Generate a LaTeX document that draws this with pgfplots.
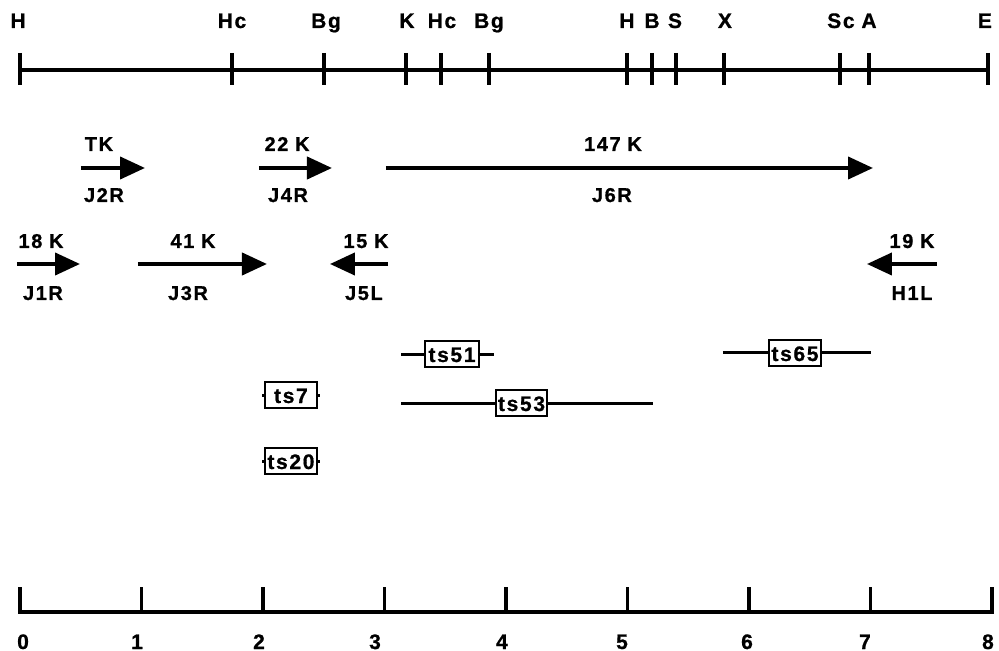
\documentclass[border=0pt]{standalone}
\usepackage{pgfplots}
\pgfplotsset{compat=1.18}
\usepackage{fontspec}
\setmainfont{Liberation Sans}
\newfontfamily\lab{Liberation Sans}[LetterSpace=8, FakeBold=0.8]
\usetikzlibrary{arrows.meta}
\tikzset{
  toplab/.style={font=\lab\bfseries\fontsize{10.5}{12}\selectfont, anchor=base, inner sep=0pt},
  arrlab/.style={font=\lab\bfseries\fontsize{10}{12}\selectfont, anchor=base, inner sep=0pt},
  tslab/.style={font=\lab\bfseries\fontsize{10.5}{12}\selectfont, anchor=base, inner sep=0pt},
  arr/.style={line width=2pt, -{Triangle[length=12.5pt,width=11pt]}},
  tsline/.style={line width=1.5pt},
  tsbox/.style={line width=1.2pt, fill=white, draw=black},
}
\begin{document}
\begin{tikzpicture}
\begin{axis}[
  scale only axis, width=499.5pt, height=325.5pt,
  xmin=-0.1646, xmax=8.058, ymin=0, ymax=651, y dir=reverse,
  hide axis, clip=false,
  every axis plot/.append style={mark=none, black, line cap=butt},
]
\path (rel axis cs:0,0) coordinate (SW) (rel axis cs:1,1) coordinate (NE);
% ---- restriction map ----
\addplot[line width=2pt] coordinates {(0,70) (7.967,70)};
\pgfplotsinvokeforeach{0,1.745,2.502,3.177,3.465,3.860,4.996,5.202,5.399,5.794,6.749,6.988,7.967}{
  \addplot[line width=1.8pt] coordinates {(#1,53) (#1,85)};
}
\node[toplab] at (axis cs:-0.016,28) {H};
\node[toplab] at (axis cs:1.745,28) {Hc};
\node[toplab] at (axis cs:2.519,28) {Bg};
\node[toplab] at (axis cs:3.185,28) {K};
\node[toplab] at (axis cs:3.473,28) {Hc};
\node[toplab] at (axis cs:3.860,28) {Bg};
\node[toplab] at (axis cs:4.996,28) {H};
\node[toplab] at (axis cs:5.202,28) {B};
\node[toplab] at (axis cs:5.391,28) {S};
\node[toplab] at (axis cs:5.802,28) {X};
\node[toplab] at (axis cs:6.757,28) {Sc};
\node[toplab] at (axis cs:6.988,28) {A};
\node[toplab] at (axis cs:7.942,28) {E};
% ---- transcripts, row 1 ----
\addplot[arr] coordinates {(0.502,168) (1.029,168)};
\addplot[arr] coordinates {(1.967,168) (2.568,168)};
\addplot[arr] coordinates {(3.012,168) (7.021,168)};
\node[arrlab] at (axis cs:0.650,151) {TK};
\node[arrlab] at (axis cs:0.691,202) {J2R};
\node[arrlab] at (axis cs:2.198,151) {22\,\,K};
\node[arrlab] at (axis cs:2.206,202) {J4R};
\node[arrlab] at (axis cs:4.881,151) {147\,\,K};
\node[arrlab] at (axis cs:4.872,202) {J6R};
% ---- transcripts, row 2 ----
\addplot[arr] coordinates {(-0.025,264) (0.494,264)};
\addplot[arr] coordinates {(0.971,264) (2.033,264)};
\addplot[arr] coordinates {(3.029,264) (2.551,264)};
\addplot[arr] coordinates {(7.547,264) (6.971,264)};
\node[arrlab] at (axis cs:0.173,248) {18\,\,K};
\node[arrlab] at (axis cs:0.189,300) {J1R};
\node[arrlab] at (axis cs:1.424,248) {41\,\,K};
\node[arrlab] at (axis cs:1.383,300) {J3R};
\node[arrlab] at (axis cs:2.848,248) {15\,\,K};
\node[arrlab] at (axis cs:2.831,300) {J5L};
\node[arrlab] at (axis cs:7.342,248) {19\,\,K};
\node[arrlab] at (axis cs:7.342,300) {H1L};
% ---- ts mutants ----
\addplot[tsline] coordinates {(3.136,355) (3.901,355)};
\addplot[tsbox] coordinates {(3.333,341) (3.778,341) (3.778,367) (3.333,367)} -- cycle;
\node[tslab] at (axis cs:3.556,362) {ts51};
\addplot[tsline] coordinates {(5.786,353) (7.004,353)};
\addplot[tsbox] coordinates {(6.165,340) (6.593,340) (6.593,366) (6.165,366)} -- cycle;
\node[tslab] at (axis cs:6.379,361) {ts65};
\addplot[tsline] coordinates {(1.992,395) (2.469,395)};
\addplot[tsbox] coordinates {(2.016,382) (2.444,382) (2.444,408) (2.016,408)} -- cycle;
\node[tslab] at (axis cs:2.230,403) {ts7};
\addplot[tsline] coordinates {(3.136,403) (5.210,403)};
\addplot[tsbox] coordinates {(3.918,390) (4.337,390) (4.337,416) (3.918,416)} -- cycle;
\node[tslab] at (axis cs:4.128,411) {ts53};
\addplot[tsline] coordinates {(1.992,461) (2.469,461)};
\addplot[tsbox] coordinates {(2.016,448) (2.444,448) (2.444,474) (2.016,474)} -- cycle;
\node[tslab] at (axis cs:2.230,469) {ts20};
% ---- scale bar ----
\addplot[line width=2pt] coordinates {(0,612) (8,612)};
\pgfplotsinvokeforeach{0,1,2,3,4,5,6,7,8}{
  \addplot[line width=1.6pt] coordinates {(#1,587) (#1,614)};
}
\node[toplab] at (axis cs:0.025,649) {0};
\node[toplab] at (axis cs:0.963,649) {1};
\node[toplab] at (axis cs:1.967,649) {2};
\node[toplab] at (axis cs:2.922,649) {3};
\node[toplab] at (axis cs:3.967,649) {4};
\node[toplab] at (axis cs:4.955,649) {5};
\node[toplab] at (axis cs:5.984,649) {6};
\node[toplab] at (axis cs:6.955,649) {7};
\node[toplab] at (axis cs:7.967,649) {8};
\end{axis}
\pgfresetboundingbox
\path (SW) rectangle (NE);
\end{tikzpicture}
\end{document}
